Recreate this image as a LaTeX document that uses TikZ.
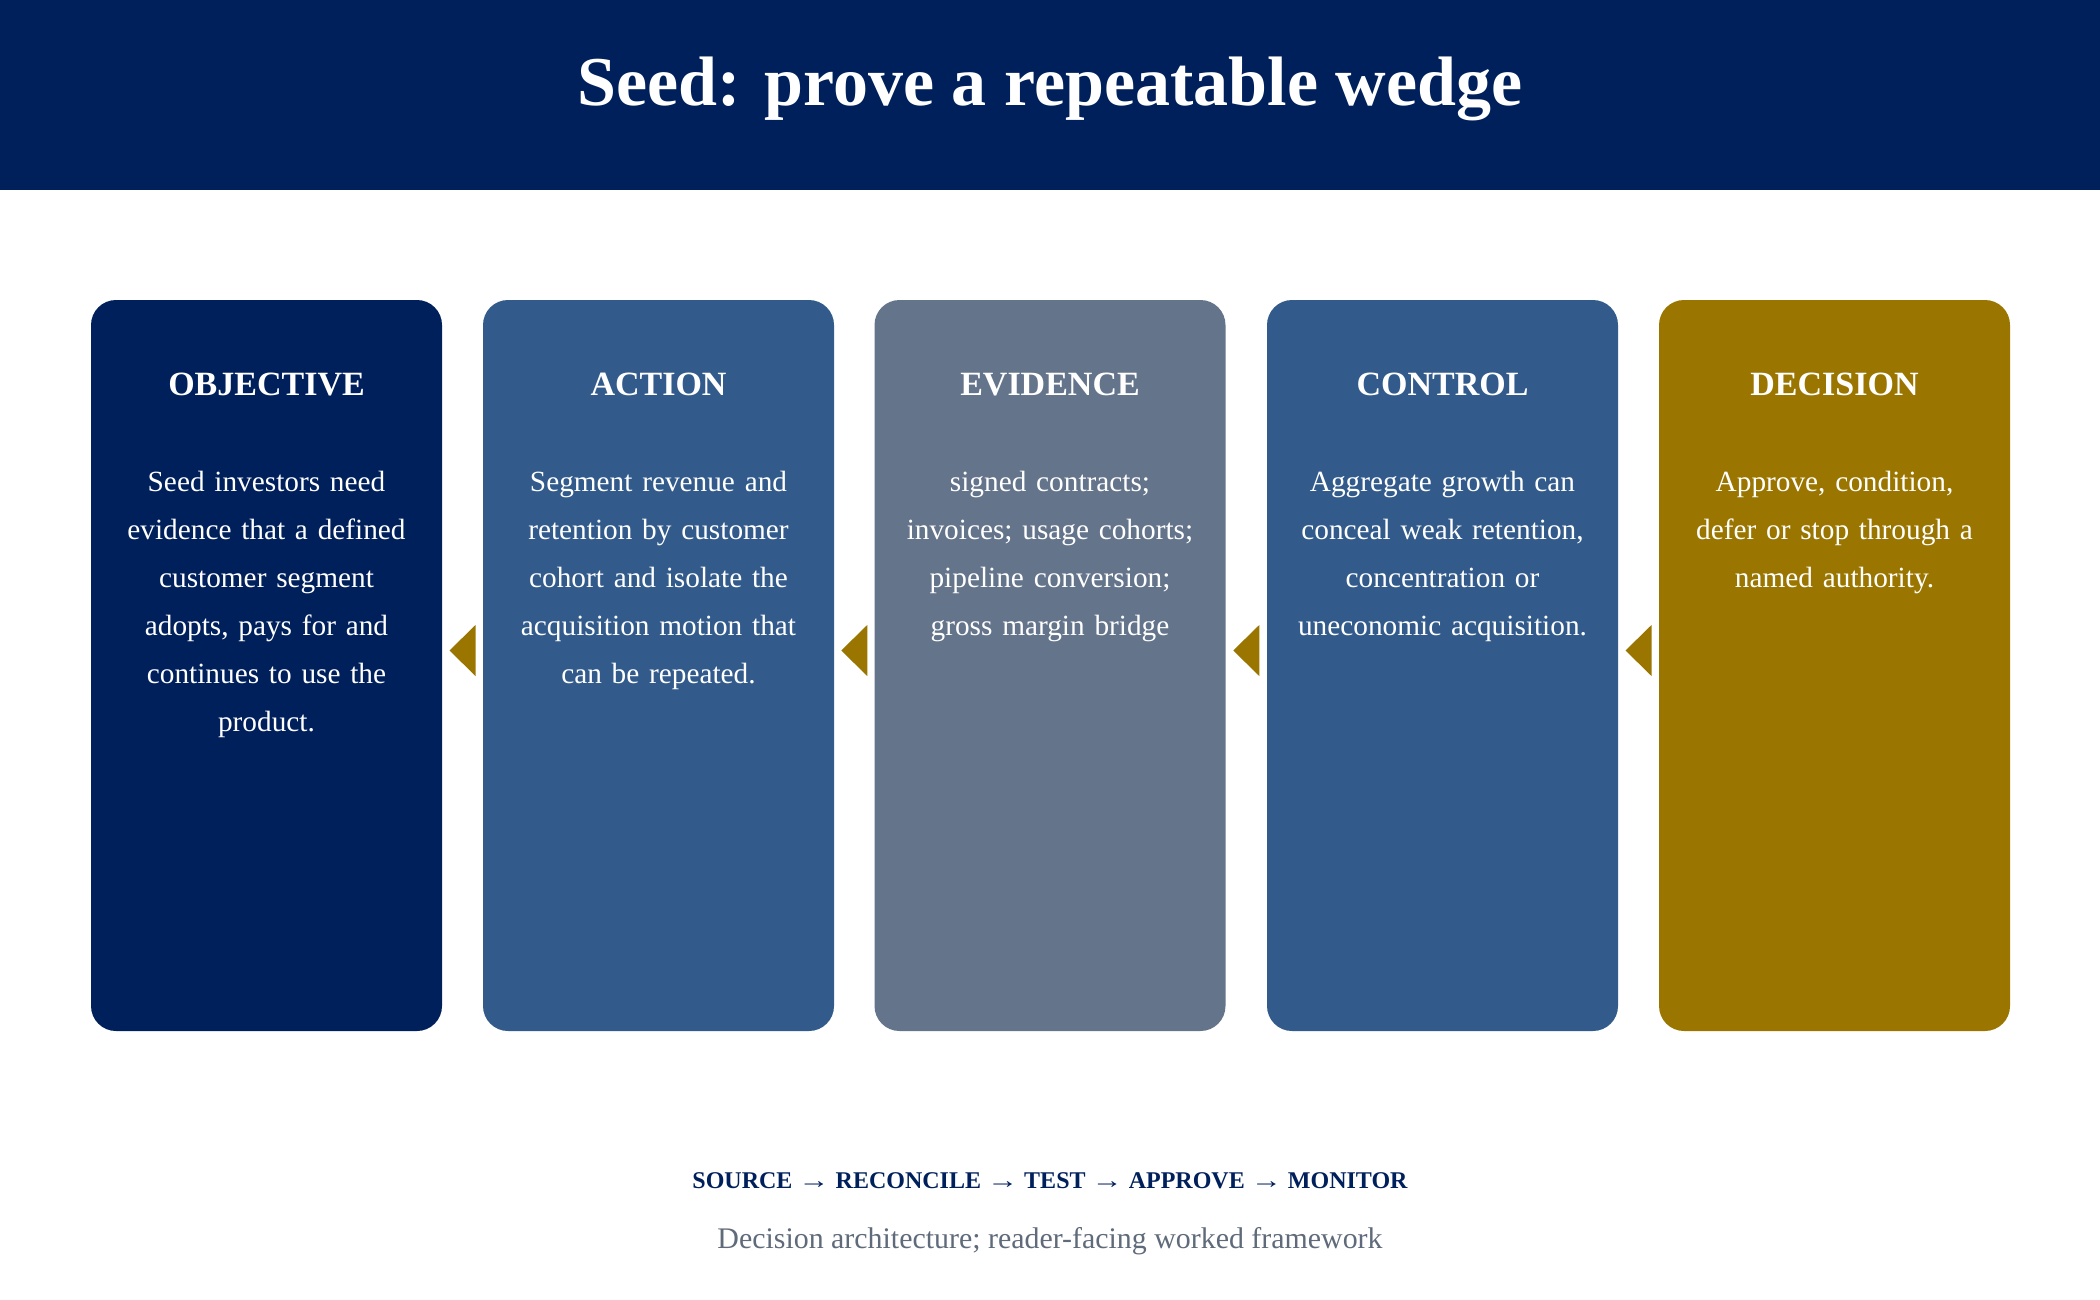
\documentclass[tikz,border=0pt]{standalone}
\usepackage{fontspec}
\usepackage{graphicx}
\setmainfont{Liberation Serif}
\usetikzlibrary{calc}
\definecolor{navy}{RGB}{0,32,92}
\definecolor{steel}{RGB}{50,91,139}
\definecolor{slate}{RGB}{100,116,139}
\definecolor{gold}{RGB}{154,117,0}
\definecolor{subgray}{RGB}{95,107,122}
\newcommand{\flowarrow}{{\mdseries\scalebox{1.3}[1]{→}}}
\tikzset{
  card/.style={rectangle, rounded corners=25pt, minimum width=351pt, minimum height=731pt, inner sep=0pt, draw=none},
  cardhead/.style={anchor=base, text=white, font=\fontsize{34}{40}\selectfont\bfseries, inner sep=0pt},
  cardbody/.style={anchor=base, text=white, text width=340pt, align=center, font=\fontsize{29.3}{48}\selectfont, inner sep=0pt},
  wedge/.style={fill=gold, draw=none}
}
\begin{document}
\begin{tikzpicture}[x=1pt,y=-1pt]
\useasboundingbox (0,0) rectangle (2100,1300);
\fill[white] (0,0) rectangle (2100,1300);
\fill[navy] (0,0) rectangle (2100,190);
\node[anchor=base, text=white, font=\fontsize{70}{80}\selectfont\bfseries, inner sep=0pt] (title) at (1050,106) {Seed: prove a repeatable wedge};

\node[card, fill=navy]  (obj) at (266.5,665.5) {};
\node[card, fill=steel] (act) at (658.5,665.5) {};
\node[card, fill=slate] (evi) at (1050,665.5) {};
\node[card, fill=steel] (con) at (1442.5,665.5) {};
\node[card, fill=gold]  (dec) at (1834.5,665.5) {};

\foreach \b/\h in {obj/OBJECTIVE, act/ACTION, evi/EVIDENCE, con/CONTROL, dec/DECISION}{
  \node[cardhead] (\b-h) at ([yshift=-96pt]\b.north) {\h};
}
\node[cardbody] (obj-t) at ([yshift=-192pt]obj.north) {Seed investors need\\evidence that a defined\\customer segment\\adopts, pays for and\\continues to use the\\product.};
\node[cardbody] (act-t) at ([yshift=-192pt]act.north) {Segment revenue and\\retention by customer\\cohort and isolate the\\acquisition motion that\\can be repeated.};
\node[cardbody] (evi-t) at ([yshift=-192pt]evi.north) {signed contracts;\\invoices; usage cohorts;\\pipeline conversion;\\gross margin bridge};
\node[cardbody] (con-t) at ([yshift=-192pt]con.north) {Aggregate growth can\\conceal weak retention,\\concentration or\\uneconomic acquisition.};
\node[cardbody] (dec-t) at ([yshift=-192pt]dec.north) {Approve, condition,\\defer or stop through a\\named authority.};

\foreach \a/\b [count=\i] in {obj/act, act/evi, evi/con, con/dec}{
  \coordinate (m\i) at ($(\a.north east)!0.5!(\b.north west) + (0,350.7)$);
  \fill[wedge] ([xshift=-13pt]m\i) -- ([xshift=13pt,yshift=25.5pt]m\i) -- ([xshift=13pt,yshift=-25.5pt]m\i) -- cycle;
}

\node[anchor=base, text=navy, font=\fontsize{24}{30}\selectfont\bfseries, inner sep=0pt] (flow) at (1050,1188) {SOURCE \flowarrow{} RECONCILE \flowarrow{} TEST \flowarrow{} APPROVE \flowarrow{} MONITOR};
\node[anchor=base, text=subgray, font=\fontsize{29.9}{36}\selectfont, inner sep=0pt] (sub) at (1050,1248) {Decision architecture; reader-facing worked framework};
\end{tikzpicture}
\end{document}
